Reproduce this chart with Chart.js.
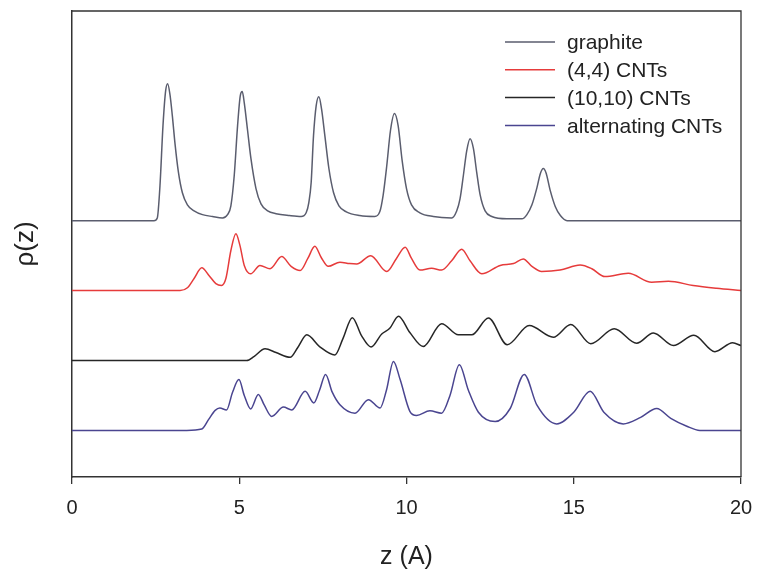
<!DOCTYPE html>
<html>
<head>
<meta charset="utf-8">
<script src="https://cdn.jsdelivr.net/npm/chart.js@4.4.1/dist/chart.umd.min.js"></script>
<style>
  html, body { margin: 0; padding: 0; background: #fff; }
  canvas { display: block; }
</style>
</head>
<body>
<canvas id="rho" width="757" height="571"></canvas>
<script>
// density profiles rho(z), each curve shifted up by its own offset
const seriesLabels = ["graphite", "(4,4) CNTs", "(10,10) CNTs", "alternating CNTs"];
const seriesColors = ["#5a5d6e", "#e63b3b", "#262626", "#4a4590"];
const seriesOffsets = [5.5, 4, 2.5, 1];
const xTicks = [0, 5, 10, 15, 20];

const graphiteZ = [0, 2.45, 2.55, 2.63, 2.72, 2.8, 2.86, 2.93, 3.0, 3.08, 3.18, 3.3, 3.45, 3.65, 3.9, 4.2, 4.5,
  4.65, 4.75, 4.85, 4.95, 5.03, 5.09, 5.15, 5.25, 5.35, 5.5, 5.65, 5.85, 6.1, 6.5, 6.85,
  7.0, 7.08, 7.15, 7.22, 7.3, 7.38, 7.46, 7.56, 7.68, 7.82, 7.98, 8.2, 8.6, 9.05,
  9.2, 9.3, 9.41, 9.52, 9.64, 9.75, 9.87, 10.0, 10.15, 10.4, 10.8, 11.35,
  11.5, 11.6, 11.7, 11.8, 11.9, 12.0, 12.1, 12.2, 12.35, 12.55, 13.0, 13.45,
  13.6, 13.75, 13.9, 14.0, 14.09, 14.17, 14.3, 14.45, 14.6, 14.8, 20];
const graphiteRho = [0, 0, 0.06, 0.75, 2.04, 2.79, 2.94, 2.70, 2.25, 1.65, 1.05, 0.60, 0.34, 0.21, 0.13, 0.09, 0.06,
  0.13, 0.32, 0.97, 2.04, 2.68, 2.77, 2.53, 1.93, 1.33, 0.69, 0.36, 0.21, 0.15, 0.11, 0.09,
  0.17, 0.39, 0.82, 1.82, 2.47, 2.66, 2.40, 1.82, 1.12, 0.60, 0.32, 0.19, 0.11, 0.09,
  0.19, 0.54, 1.18, 1.93, 2.30, 2.04, 1.29, 0.69, 0.34, 0.17, 0.09, 0.06,
  0.21, 0.47, 0.97, 1.50, 1.76, 1.55, 1.03, 0.56, 0.21, 0.09, 0.04, 0.04,
  0.13, 0.34, 0.71, 1.01, 1.12, 1.03, 0.64, 0.30, 0.11, 0, 0];

const cnt44Z = [0, 3.23, 3.45, 3.65, 3.88, 4.1, 4.3, 4.47, 4.6, 4.75, 4.9, 5.02, 5.15, 5.34, 5.62, 5.92,
  6.27, 6.55, 6.82, 7.05, 7.26, 7.45, 7.66, 8.01, 8.3, 8.51, 8.93, 9.41, 9.7, 9.96, 10.15,
  10.4, 10.75, 11.05, 11.35, 11.65, 11.9, 12.25, 12.8, 13.2, 13.49, 13.75, 14.04, 14.59,
  15.19, 15.54, 15.93, 16.63, 17.33, 17.83, 18.57, 19.27, 20];
const cnt44Rho = [0, 0, 0.06, 0.26, 0.49, 0.32, 0.15, 0.11, 0.26, 0.86, 1.22, 0.97, 0.54, 0.36, 0.54, 0.47,
  0.73, 0.52, 0.43, 0.69, 0.95, 0.71, 0.52, 0.61, 0.58, 0.57, 0.75, 0.41, 0.69, 0.93, 0.69,
  0.44, 0.48, 0.44, 0.64, 0.89, 0.64, 0.36, 0.54, 0.58, 0.68, 0.52, 0.41, 0.44,
  0.55, 0.47, 0.30, 0.37, 0.18, 0.20, 0.11, 0.05, 0];

const cnt1010Z = [0, 5.22, 5.45, 5.77, 6.1, 6.52, 6.75, 7.02, 7.4, 7.86, 8.1, 8.38, 8.65, 8.94, 9.26, 9.5,
  9.76, 10.1, 10.5, 11.05, 11.55, 11.95, 12.45, 13.01, 13.67, 14.39, 14.91, 15.51, 16.21,
  16.88, 17.38, 17.98, 18.59, 19.22, 19.75, 20];
const cnt1010Rho = [0, 0, 0.09, 0.25, 0.17, 0.07, 0.28, 0.55, 0.30, 0.12, 0.47, 0.92, 0.54, 0.29, 0.57, 0.69,
  0.95, 0.60, 0.30, 0.79, 0.55, 0.55, 0.91, 0.34, 0.75, 0.50, 0.77, 0.36, 0.68,
  0.37, 0.59, 0.32, 0.54, 0.19, 0.38, 0.32];

const altZ = [0, 3.43, 3.88, 4.08, 4.28, 4.42, 4.62, 4.8, 4.99, 5.15, 5.34, 5.57, 5.75, 5.97, 6.32, 6.57,
  6.97, 7.23, 7.4, 7.58, 7.78, 8.01, 8.46, 8.86, 9.21, 9.4, 9.61, 9.81, 10.1, 10.3, 10.7,
  11.05, 11.3, 11.58, 11.85, 12.15, 12.65, 13.1, 13.52, 13.9, 14.49, 15.0, 15.49, 15.9,
  16.48, 17.0, 17.48, 17.9, 18.38, 18.77, 20];
const altRho = [0, 0, 0.03, 0.23, 0.43, 0.48, 0.44, 0.82, 1.09, 0.75, 0.46, 0.77, 0.54, 0.30, 0.50, 0.44,
  0.84, 0.59, 0.86, 1.20, 0.82, 0.55, 0.37, 0.66, 0.48, 0.86, 1.48, 1.09, 0.41, 0.32, 0.42,
  0.37, 0.75, 1.41, 0.86, 0.39, 0.19, 0.47, 1.20, 0.54, 0.14, 0.39, 0.84, 0.39,
  0.14, 0.28, 0.47, 0.26, 0.09, 0, 0];

const seriesZ = [graphiteZ, cnt44Z, cnt1010Z, altZ];
const seriesRho = [graphiteRho, cnt44Rho, cnt1010Rho, altRho];

const datasets = seriesLabels.map((label, k) => ({
  label: label,
  data: seriesZ[k].map((z, i) => ({ x: z, y: seriesOffsets[k] + seriesRho[k][i] })),
  borderColor: seriesColors[k],
  borderWidth: 1.5,
  pointRadius: 0,
  fill: false,
  cubicInterpolationMode: "monotone",
}));

// closes the plot box on the top and right sides
const frame = {
  id: "frame",
  afterDraw(chart) {
    const { ctx, chartArea: a } = chart;
    ctx.save();
    ctx.strokeStyle = "#333";
    ctx.lineWidth = 1.3;
    ctx.beginPath();
    ctx.moveTo(a.left, a.top);
    ctx.lineTo(a.right, a.top);
    ctx.lineTo(a.right, a.bottom);
    ctx.stroke();
    ctx.restore();
  },
};

// legend drawn inside the plot, top right
const innerLegend = {
  id: "innerLegend",
  afterDraw(chart) {
    const { ctx, chartArea: a } = chart;
    ctx.save();
    ctx.font = "21px 'Liberation Sans', Arial, sans-serif";
    ctx.textBaseline = "middle";
    ctx.fillStyle = "#222";
    chart.data.datasets.forEach((ds, i) => {
      const y = a.top + 31 + i * 27.8;
      ctx.strokeStyle = ds.borderColor;
      ctx.lineWidth = 1.5;
      ctx.beginPath();
      ctx.moveTo(a.left + 433, y);
      ctx.lineTo(a.left + 483, y);
      ctx.stroke();
      ctx.fillText(ds.label, a.left + 495, y + 1.5);
    });
    ctx.restore();
  },
};

new Chart(document.getElementById("rho"), {
  type: "line",
  data: { datasets: datasets },
  options: {
    responsive: false,
    animation: false,
    layout: { padding: { top: 11, right: 16, left: 0, bottom: 0 } },
    plugins: { legend: { display: false }, tooltip: { enabled: false } },
    scales: {
      x: {
        type: "linear",
        min: 0,
        max: 20,
        afterBuildTicks: (axis) => { axis.ticks = xTicks.map((v) => ({ value: v })); },
        afterFit: (axis) => {
          axis.height = 94;
          axis.paddingLeft = 0;
          axis.paddingRight = 0;
        },
        ticks: {
          color: "#222",
          padding: 12,
          font: { family: "'Liberation Sans', Arial, sans-serif", size: 20 },
        },
        grid: { drawOnChartArea: false, drawTicks: true, tickLength: 7, color: "#333", lineWidth: 1.3 },
        border: { display: true, color: "#333", width: 1.5 },
        title: {
          display: true,
          text: "z (A)",
          color: "#222",
          padding: { top: 0, bottom: 0 },
          font: { family: "'Liberation Sans', Arial, sans-serif", size: 25, lineHeight: 1.1 },
        },
      },
      y: {
        min: 0,
        max: 10,
        afterFit: (axis) => { axis.width = 72; },
        ticks: { display: false },
        grid: { display: false },
        border: { display: true, color: "#333", width: 1.5 },
        title: {
          display: true,
          text: "ρ(z)",
          color: "#222",
          padding: { top: 10, bottom: 0 },
          font: { family: "'Liberation Sans', Arial, sans-serif", size: 26, lineHeight: 1.2 },
        },
      },
    },
  },
  plugins: [frame, innerLegend],
});
</script>
</body>
</html>
